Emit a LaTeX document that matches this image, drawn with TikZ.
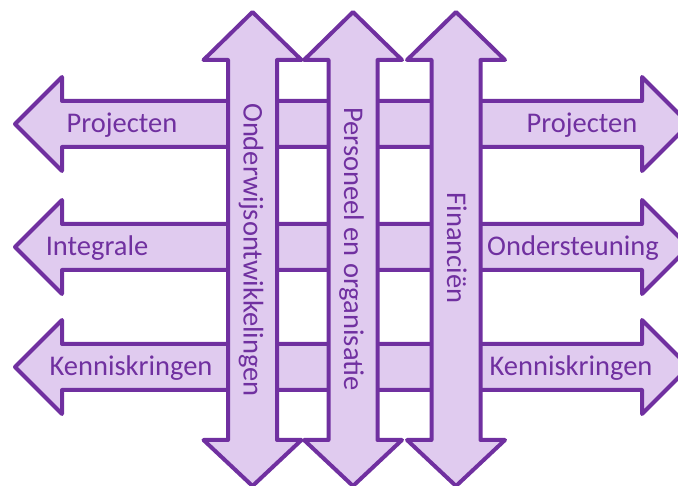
\documentclass[tikz,border=0pt]{standalone}
\usepackage{fontspec}
\setmainfont{Carlito}
\definecolor{plum}{HTML}{7030A0}
\definecolor{lilac}{HTML}{E0CBEF}
\begin{document}
\begin{tikzpicture}[x=1pt,y=-1pt,
  band/.style={draw=plum,fill=lilac,line width=4pt,line join=round},
  lbl/.style={text=plum,font=\fontsize{28.5}{30}\selectfont,inner sep=0pt,anchor=base}]
\useasboundingbox (0,0) rectangle (678,486);
\clip (0,0) rectangle (678,486);
% horizontal double arrows (one per row)
\foreach \yc in {124,247,367}{
  \draw[band] (15,\yc) -- (62,\yc-47) -- (62,\yc-23) -- (642,\yc-23) -- (642,\yc-47)
    -- (689,\yc) -- (642,\yc+47) -- (642,\yc+23) -- (62,\yc+23) -- (62,\yc+47) -- cycle;
}
% vertical double arrows, drawn over the rows
\foreach \xc in {252.5,353,456}{
  \draw[band] (\xc,12) -- (\xc+49,60) -- (\xc+24.5,60) -- (\xc+24.5,440) -- (\xc+49,440)
    -- (\xc,486) -- (\xc-49,440) -- (\xc-24.5,440) -- (\xc-24.5,60) -- (\xc-49,60) -- cycle;
}
% row labels
\node[lbl] (projL) at (122,133) {Projecten};
\node[lbl] (intL) at (97,256) {Integrale};
\node[lbl] (kenL) at (131,376) {Kenniskringen};
\node[lbl] (projR) at (582,133) {Projecten};
\node[lbl] (ondR) at (573,256) {Ondersteuning};
\node[lbl] (kenR) at (571,376) {Kenniskringen};
% column labels
\node[lbl,rotate=-90] (onderwijs) at (243.5,250) {Onderwijsontwikkelingen};
\node[lbl,rotate=-90] (personeel) at (344,249) {Personeel en organisatie};
\node[lbl,rotate=-90] (financien) at (447,248) {Financiën};
\end{tikzpicture}
\end{document}
